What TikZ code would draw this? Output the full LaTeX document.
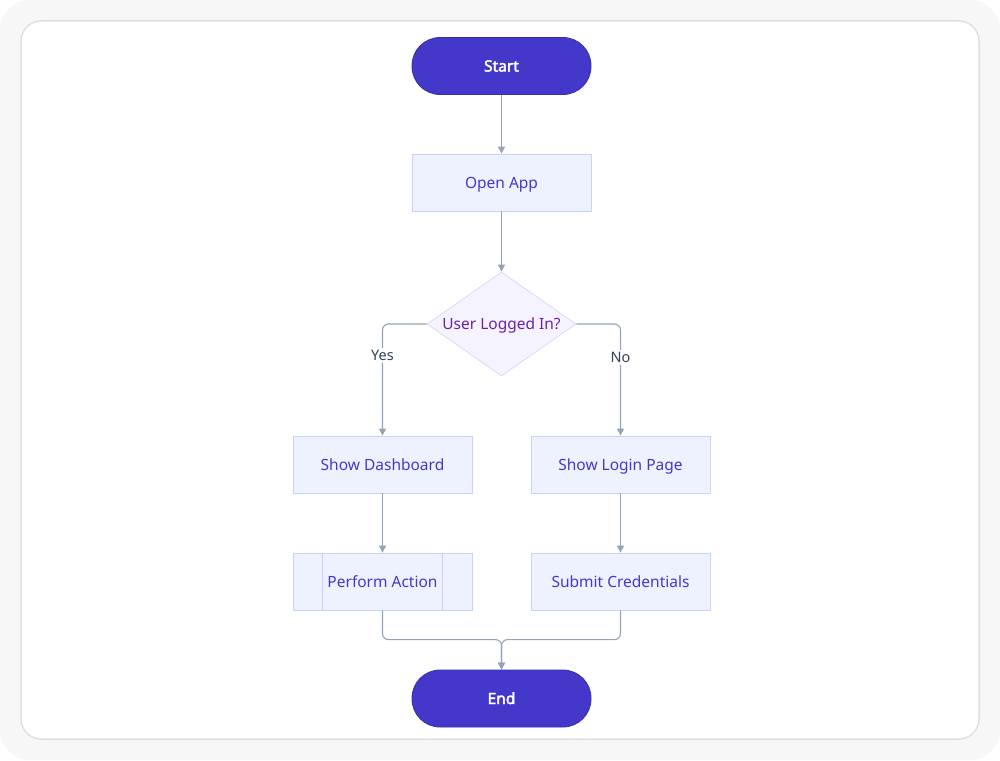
\documentclass[tikz,border=0pt]{standalone}
\usepackage{fontspec}
\setmainfont{Noto Sans}
\newfontfamily\pillfont{Noto Sans}[FakeBold=2.5]
\usetikzlibrary{shapes.geometric,arrows.meta,calc}
\definecolor{pagebg}{HTML}{F7F7F7}
\definecolor{cardborder}{HTML}{E0E0E0}
\definecolor{pillfill}{HTML}{4338CA}
\definecolor{pillborder}{HTML}{3730A3}
\definecolor{boxfill}{HTML}{EEF2FF}
\definecolor{boxborder}{HTML}{C7D2FE}
\definecolor{boxtext}{HTML}{4338CA}
\definecolor{decfill}{HTML}{F5F3FF}
\definecolor{decborder}{HTML}{DDD6FE}
\definecolor{dectext}{HTML}{6B21A8}
\definecolor{edgecol}{HTML}{94A3B8}
\definecolor{labeltext}{HTML}{334155}
\tikzset{
  pill/.style={draw=pillborder, fill=pillfill, rounded corners=28pt, minimum width=179pt, minimum height=57pt, text=white, font=\pillfont\fontsize{15.5}{18}\selectfont, text height=14pt, text depth=3pt, line width=0.8pt},
  procbox/.style={draw=boxborder, fill=boxfill, minimum width=179pt, minimum height=57pt, text=boxtext, font=\fontsize{15.5}{18}\selectfont, text height=14pt, text depth=3pt, line width=0.8pt},
  decbox/.style={draw=decborder, fill=decfill, diamond, minimum width=149pt, minimum height=104pt, inner sep=0pt, line width=0.8pt},
  dectxt/.style={text=dectext, font=\fontsize{15.5}{18}\selectfont, text height=14pt, text depth=3pt},
  edge/.style={draw=edgecol, line width=1.1pt, rounded corners=6pt, -{Triangle[length=7pt,width=7pt]}},
  elabel/.style={fill=white, text=labeltext, font=\fontsize{14.5}{17}\selectfont, inner sep=2pt}
}
\begin{document}
\begin{tikzpicture}[x=1pt,y=-1pt]
\useasboundingbox (0,0) rectangle (1000,760);
\fill[pagebg, rounded corners=30pt] (0,0) rectangle (1000,760);
\draw[cardborder, fill=white, line width=1.5pt, rounded corners=20pt] (21,21) rectangle (979,739);

\node[pill] (start) at (501.5,66) {Start};
\node[procbox] (open) at (501.5,182.5) {Open App};
\node[decbox] (dec) at (501.5,324) {};
\node[dectxt] (dectext) at (dec.center) {User Logged In?};
\node[procbox] (dash) at (382.5,464.5) {Show Dashboard};
\node[procbox] (login) at (620.5,464.5) {Show Login Page};
\node[procbox] (act) at (382.5,581.5) {Perform Action};
\draw[boxborder, line width=0.8pt] ($(act.north west)+(30,0)$) coordinate (a1) -- ($(act.south west)+(30,0)$) coordinate (a2);
\draw[boxborder, line width=0.8pt] ($(act.north east)+(-30,0)$) coordinate (a3) -- ($(act.south east)+(-30,0)$) coordinate (a4);
\node[procbox] (submit) at (620.5,581.5) {Submit Credentials};
\node[pill] (end) at (501.5,698.5) {End};

\coordinate (merge) at ($(end.north)+(0,-30)$);

\draw[edge] (start.south) -- (open.north);
\draw[edge] (open.south) -- (dec.north);
\draw[edge] (dec.west) -| node[elabel, pos=0.64] {Yes} (dash.north);
\draw[edge] (dec.east) -| node[elabel, pos=0.65] {No} (login.north);
\draw[edge] (dash.south) -- (act.north);
\draw[edge] (login.south) -- (submit.north);
\draw[edge] (act.south) |- (merge) -- (end.north);
\draw[edge] (submit.south) |- (merge) -- (end.north);
\end{tikzpicture}
\end{document}
